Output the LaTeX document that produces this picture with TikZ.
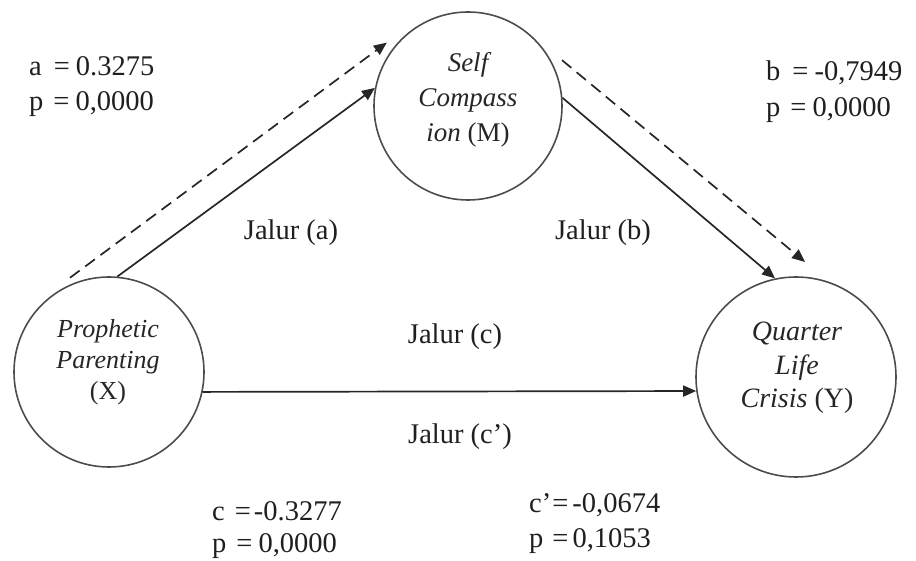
\documentclass[tikz,border=0pt]{standalone}
\usepackage{fontspec}
\setmainfont{Liberation Serif}
\usetikzlibrary{arrows.meta,calc}
\begin{document}
\begin{tikzpicture}[x=1pt,y=1pt,
  circ/.style={circle,draw=black!70,line width=1.6pt,inner sep=0pt},
  conn/.style={draw=black!85,line width=1.7pt,-{Triangle[length=13pt,width=11pt]}},
  dconn/.style={conn,dash pattern=on 12pt off 7pt},
  lbl/.style={font=\fontsize{28.5}{33}\selectfont,inner sep=0pt,text=black!88},
  stat/.style={lbl,anchor=base west},
  ctext/.style={align=center,inner sep=0pt,text=black!85}]
\useasboundingbox (0,0) rectangle (916,560);
\node[circ,minimum size=188pt] (M) at (468,454) {};
\node[circ,minimum size=190pt] (X) at (109,188) {};
\node[circ,minimum size=200pt] (Y) at (796,183) {};
\node[ctext,font=\fontsize{27}{35}\selectfont\itshape] (Mt) at (468,460) {Self\\Compass\\ion \textup{(M)}};
\node[ctext,font=\fontsize{26}{31}\selectfont\itshape] (Xt) at (108,198) {Prophetic\\Parenting\\\textup{(X)}};
\node[ctext,font=\fontsize{28}{33.5}\selectfont\itshape] (Yt) at (797,192) {Quarter\\Life\\Crisis \textup{(Y)}};
% connectors
\draw[conn] (X.85) -- (M.169);
\draw[conn] (M.5) -- (Y.102);
\draw[conn] (X.-12) -- (Y.188.6);
\coordinate (da1) at ($(X.center)+(112.5:102)$);
\coordinate (da2) at ($(M.center)+(142:103)$);
\coordinate (db1) at ($(M.center)+(26:104.6)$);
\coordinate (db2) at ($(Y.center)+(85.5:115.4)$);
\draw[dconn] (da1) -- (da2);
\draw[dconn] (db1) -- (db2);
% path labels
\node[lbl] (ja) at (291,327) {Jalur (a)};
\node[lbl] (jb) at (603,327) {Jalur (b)};
\node[lbl] (jc) at (455,223) {Jalur (c)};
\node[lbl] (jc2) at (460,123) {Jalur (c’)};
% statistics
\node[stat] (sa) at (29,484) {a\hspace{12pt}=\hspace{6pt}0.3275};
\node[stat] (spa) at (29,449) {p\hspace{10pt}=\hspace{6pt}0,0000};
\node[stat] (sb) at (766,479) {b\hspace{12pt}=\hspace{6pt}-0,7949};
\node[stat] (spb) at (766,443) {p\hspace{10pt}=\hspace{6pt}0,0000};
\node[stat] (sc) at (212,40) {c\hspace{10pt}=\hspace{3pt}-0.3277};
\node[stat] (spc) at (212,8) {p\hspace{10pt}=\hspace{6pt}0,0000};
\node[stat] (scc) at (529,48) {c’\hspace{1pt}=\hspace{4pt}-0,0674};
\node[stat] (spcc) at (529,13) {p\hspace{9pt}=\hspace{4pt}0,1053};
\end{tikzpicture}
\end{document}
